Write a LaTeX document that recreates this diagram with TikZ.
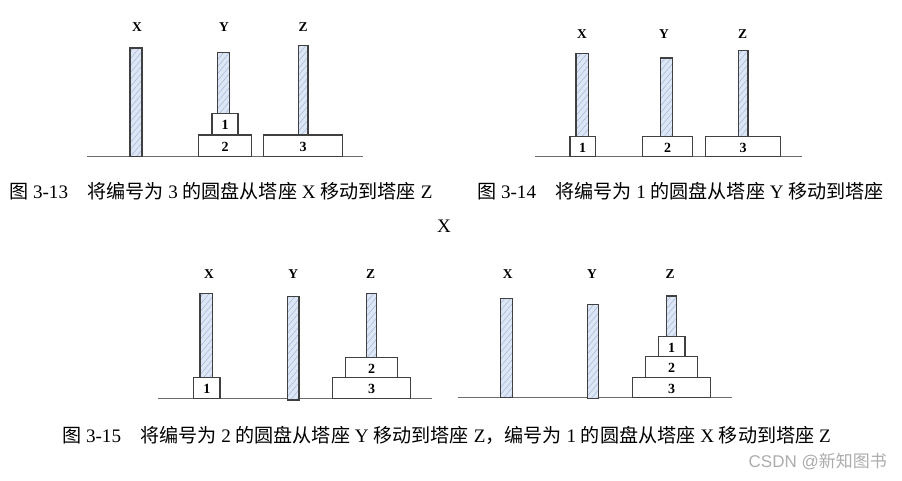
\documentclass[tikz,border=0pt]{standalone}
\usepackage{fontspec}
\setmainfont{Liberation Serif}
\newfontfamily\cjk{Noto Sans CJK SC}
\newfontfamily\wmsans{Liberation Sans}
\usetikzlibrary{patterns.meta}
\definecolor{polefill}{HTML}{DDE6F4}
\definecolor{polehatch}{HTML}{A3B5D8}
\definecolor{edge}{HTML}{404040}
\tikzset{
  pole/.style={fill=polefill,
    postaction={pattern={Lines[angle=50,distance=4.5pt,line width=0.5pt]}, pattern color=polehatch}},
  disk/.style={draw=edge, line width=1.1pt, fill=white},
  ground/.style={draw=gray!85!black, line width=1.2pt},
  dnum/.style={font=\fontsize{14}{14}\selectfont\bfseries, inner sep=0pt},
  plabel/.style={font=\fontsize{13.5}{13.5}\selectfont\bfseries, inner sep=0pt},
  captext/.style={font=\fontsize{19.1}{19.1}\selectfont, inner sep=0pt, anchor=west},
}
\newcommand\hpole[4]{\path[pole] (#1,#2) rectangle (#3,#4); \draw[edge, line width=1.1pt] (#1,#2) rectangle (#3,#4);}
\newcommand\hdisk[5]{\path[disk] (#1,#2) rectangle (#3,#4); \node[dnum] at ({(#1+#3)/2},{(#2+#4)/2+1}) {#5};}
\begin{document}
\begin{tikzpicture}[x=1pt,y=-1pt]
\useasboundingbox (0,0) rectangle (902,480);
% ---------- panel 1 ----------
\draw[ground] (87,156.7) coordinate (g1a) -- (363,156.7) coordinate (g1b);
\node[plabel] (l1x) at (137,27) {X};
\node[plabel] (l1y) at (224,27) {Y};
\node[plabel] (l1z) at (303,27) {Z};
\hpole{130}{48}{142}{156.7}
\hpole{217.7}{52.7}{229.3}{113.7}
\hdisk{212}{113.7}{238}{135}{1}
\hdisk{198.7}{135}{251.3}{156.7}{2}
\hpole{298.3}{45.3}{308}{135}
\hdisk{263.7}{135}{342.3}{156.7}{3}
% ---------- panel 2 ----------
\draw[ground] (535,156.7) coordinate (g2a) -- (801.7,156.7) coordinate (g2b);
\node[plabel] (l2x) at (582,34) {X};
\node[plabel] (l2y) at (664,34) {Y};
\node[plabel] (l2z) at (742.7,34) {Z};
\hpole{576}{53.3}{588.3}{136.7}
\hdisk{570}{136.7}{595.3}{156.7}{1}
\hpole{660.7}{58}{672.7}{136.7}
\hdisk{642.7}{136.7}{692.7}{156.7}{2}
\hpole{738.3}{50.7}{748}{136.7}
\hdisk{705.3}{136.7}{780.7}{156.7}{3}
% ---------- panel 3 ----------
\draw[ground] (158,398.5) coordinate (g3a) -- (431.7,398.5) coordinate (g3b);
\node[plabel] (l3x) at (209,274) {X};
\node[plabel] (l3y) at (293.3,274) {Y};
\node[plabel] (l3z) at (370.7,274) {Z};
\hpole{200}{293.3}{212.3}{377.7}
\hdisk{193.7}{377.7}{220}{398.3}{1}
\hpole{287.3}{296.7}{299}{400}
\hpole{366.7}{293.3}{376.7}{357.3}
\hdisk{345.7}{357.3}{397.7}{377.7}{2}
\hdisk{332.7}{377.7}{410.3}{398.3}{3}
% ---------- panel 4 ----------
\draw[ground] (458.3,397.7) coordinate (g4a) -- (731.7,397.7) coordinate (g4b);
\node[plabel] (l4x) at (507.7,274) {X};
\node[plabel] (l4y) at (592,274) {Y};
\node[plabel] (l4z) at (670,274) {Z};
\hpole{500.3}{298.7}{512.3}{397.7}
\hpole{587.7}{304.3}{598.7}{398.3}
\hpole{666.7}{296}{676.7}{336.3}
\hdisk{658.3}{336.3}{685}{356.7}{1}
\hdisk{645.7}{356.7}{697.7}{377.3}{2}
\hdisk{632.7}{377.3}{710.7}{397.7}{3}
% ---------- captions ----------
\node[captext] (c1) at (9,191) {{\cjk 图} 3-13\hspace{19pt}{\cjk 将编号为} 3 {\cjk 的圆盘从塔座} X {\cjk 移动到塔座} Z};
\node[captext] (c2) at (477,191) {{\cjk 图} 3-14\hspace{19pt}{\cjk 将编号为} 1 {\cjk 的圆盘从塔座} Y {\cjk 移动到塔座}};
\node[font=\fontsize{19.1}{19.1}\selectfont, inner sep=0pt] (c2b) at (444,226) {X};
\node[captext] (c3) at (62,435) {{\cjk 图} 3-15\hspace{19pt}{\cjk 将编号为} 2 {\cjk 的圆盘从塔座} Y {\cjk 移动到塔座} Z{\cjk ，编号为} 1 {\cjk 的圆盘从塔座} X {\cjk 移动到塔座} Z};
\node[font=\fontsize{17}{17}\selectfont, text=gray!65, inner sep=0pt, anchor=east] (wm) at (887,461) {\wmsans CSDN @{\cjk 新知图书}};
\end{tikzpicture}
\end{document}
